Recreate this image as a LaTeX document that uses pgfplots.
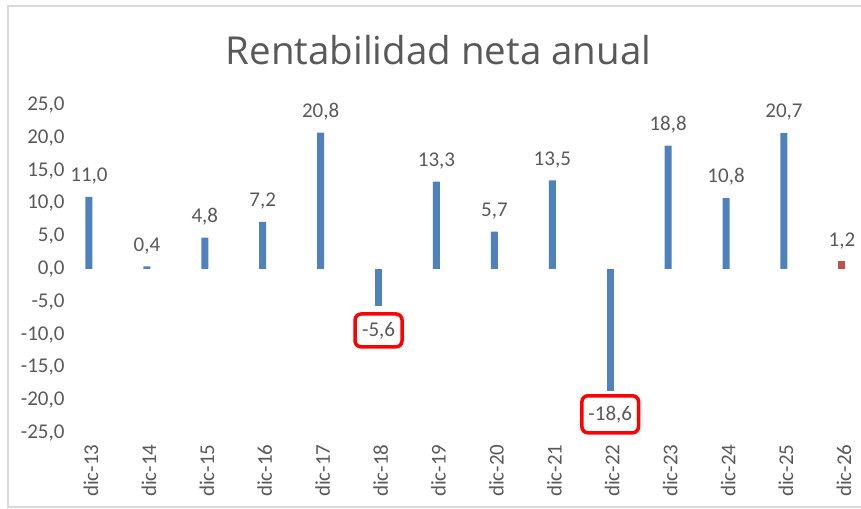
\documentclass[border=0pt]{standalone}
\usepackage{pgfplots}
\pgfplotsset{compat=1.18}
\usepackage{fontspec}
\setmainfont{Carlito}
\newfontfamily\titlefont{Open Sans}
\definecolor{barblue}{HTML}{4F81BD}
\definecolor{barred}{HTML}{C0504D}
\definecolor{txt}{HTML}{595959}
\definecolor{framegray}{HTML}{D9D9D9}
\begin{document}
\begin{tikzpicture}[x=1bp,y=1bp]
\path[use as bounding box] (0,0) rectangle (861,509);
\draw[framegray, line width=1.5bp] (875,503) -- (8,503) -- (8,2) -- (875,2);
\node[anchor=base, text=txt, inner sep=0pt, font=\titlefont\fontsize{38.5bp}{44bp}\selectfont] at (438.5,444) {Rentabilidad neta anual};
\begin{axis}[
  at={(60bp,76bp)}, anchor=south west,
  scale only axis, width=801bp, height=328bp,
  xmin=-0.5, xmax=13.33, ymin=-25, ymax=25,
  ytick={-25,-20,...,25},
  xtick={0,...,13},
  xticklabels={dic-13,dic-14,dic-15,dic-16,dic-17,dic-18,dic-19,dic-20,dic-21,dic-22,dic-23,dic-24,dic-25,dic-26},
  axis line style={draw=none},
  major tick length=0pt,
  clip=false,
  /pgf/number format/use comma,
  /pgf/number format/fixed,
  /pgf/number format/fixed zerofill,
  /pgf/number format/precision=1,
  /pgf/number format/assume math mode=true,
  tick label style={text=txt, font=\fontsize{21bp}{25bp}\selectfont},
  yticklabel style={anchor=east, xshift=8bp},
  xticklabel style={rotate=90, anchor=east, xshift=-8bp, yshift=-2bp},
  every node near coord/.append style={text=txt, font=\fontsize{21bp}{25bp}\selectfont},
]
\addplot[ybar, bar width=7bp, bar shift=0pt, fill=barblue, draw=none,
  nodes near coords, every node near coord/.append style={yshift=9bp}]
  coordinates {(0,11.0)(1,0.4)(2,4.8)(3,7.2)(4,20.8)(6,13.3)(7,5.7)(8,13.5)(10,18.8)(11,10.8)(12,20.7)};
\addplot[ybar, bar width=7bp, bar shift=0pt, fill=barblue, draw=none,
  nodes near coords, every node near coord/.append style={anchor=north, draw=red, rounded corners=6bp, line width=3.5bp, inner xsep=7bp, inner ysep=8bp, yshift=-6.5bp}]
  coordinates {(5,-5.6)};
\addplot[ybar, bar width=7bp, bar shift=0pt, fill=barblue, draw=none,
  nodes near coords, every node near coord/.append style={anchor=north, draw=red, rounded corners=6bp, line width=3.5bp, inner xsep=6.5bp, inner ysep=10bp, yshift=-3bp}]
  coordinates {(9,-18.6)};
\addplot[ybar, bar width=7bp, bar shift=0pt, fill=barred, draw=none,
  nodes near coords, every node near coord/.append style={yshift=8bp}]
  coordinates {(13,1.2)};
\end{axis}
\end{tikzpicture}
\end{document}
